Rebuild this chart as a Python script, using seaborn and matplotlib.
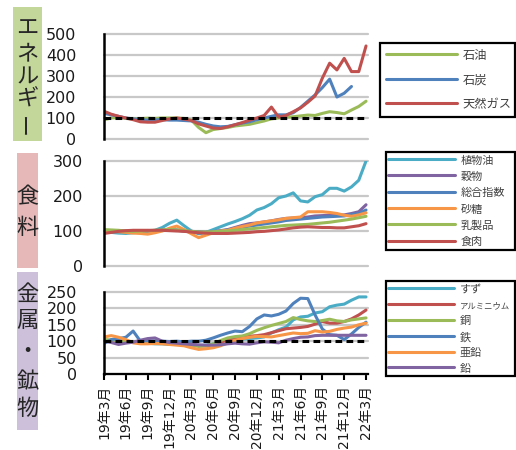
import numpy as np
import pandas as pd
import matplotlib
matplotlib.use("Agg")
import matplotlib.pyplot as plt
import seaborn as sns
from matplotlib.lines import Line2D
from matplotlib.patches import Rectangle

# ---------------- data ----------------
month_index = list(range(37))  # 2019-03 .. 2022-03, monthly
tick_positions = list(range(0, 37, 3))
tick_labels = ["19年3月", "19年6月", "19年9月", "19年12月", "20年3月", "20年6月",
               "20年9月", "20年12月", "21年3月", "21年6月", "21年9月", "21年12月", "22年3月"]

energy_names = ["石油", "石炭", "天然ガス"]
energy_colors = ["#9bbb59", "#4f81bd", "#c0504d"]
oil = [92, 100, 102, 98, 96, 97, 99, 98, 100, 100, 100, 98, 90, 55, 30, 45, 50, 55, 62,
       66, 70, 78, 86, 96, 100, 104, 106, 110, 114, 112, 122, 130, 126, 120, 138, 155, 180]
coal = [122, 115, 108, 100, 96, 92, 90, 91, 92, 90, 90, 88, 86, 80, 70, 62, 58, 60, 68,
        76, 82, 92, 100, 108, 115, 115, 125, 150, 180, 210, 245, 285, 200, 218, 250,
        np.nan, np.nan]
gas = [132, 118, 108, 100, 92, 82, 80, 80, 88, 96, 100, 95, 88, 72, 62, 52, 50, 58, 68,
       78, 90, 100, 112, 152, 104, 112, 130, 148, 175, 205, 290, 361, 329, 384, 321, 321, 443]

food_names = ["植物油", "穀物", "総合指数", "砂糖", "乳製品", "食肉"]
food_colors = ["#4bacc6", "#8064a2", "#4f81bd", "#f79646", "#9bbb59", "#c0504d"]
veg_oil = [97, 96, 94, 93, 95, 97, 100, 102, 110, 122, 131, 115, 100, 92, 96, 104, 112,
           120, 127, 135, 145, 160, 167, 178, 195, 200, 209, 186, 183, 198, 204, 222, 222,
           214, 226, 245, 300]
grains = [100, 101, 100, 99, 98, 99, 100, 101, 102, 103, 102, 100, 99, 98, 97, 98, 101,
          104, 110, 116, 121, 123, 126, 129, 133, 136, 137, 138, 140, 143, 144, 145, 145,
          146, 150, 155, 175]
food_total = [100, 100, 99, 99, 98, 99, 100, 101, 102, 104, 103, 100, 97, 95, 95, 97, 100,
              103, 107, 111, 114, 117, 120, 123, 126, 130, 132, 134, 136, 138, 140, 141,
              142, 143, 147, 150, 160]
sugar = [97, 99, 98, 96, 94, 93, 91, 95, 100, 108, 114, 104, 92, 81, 88, 95, 100, 102, 108,
         113, 117, 123, 126, 129, 132, 136, 138, 140, 155, 155, 155, 153, 150, 145, 142,
         146, 152]
dairy = [104, 103, 102, 100, 99, 100, 101, 102, 103, 104, 103, 101, 99, 97, 97, 98, 99,
         100, 102, 104, 106, 108, 110, 112, 114, 116, 117, 118, 119, 121, 123, 125, 128,
         131, 134, 138, 142]
meat = [93, 96, 99, 101, 102, 102, 102, 102, 102, 101, 100, 99, 97, 95, 94, 93, 93, 93, 94,
        95, 96, 98, 99, 101, 103, 106, 109, 111, 112, 111, 110, 110, 109, 109, 112, 115, 121]

metal_names = ["すず", "アルミニウム", "銅", "鉄", "亜鉛", "鉛"]
metal_colors = ["#4bacc6", "#c0504d", "#9bbb59", "#4f81bd", "#f79646", "#8064a2"]
tin = [100, 102, 101, 100, 98, 96, 94, 92, 92, 90, 92, 94, 92, 86, 88, 92, 96, 100, 103,
       106, 108, 110, 113, 125, 135, 143, 165, 174, 176, 186, 190, 205, 210, 213, 225, 235, 235]
aluminium = [100, 102, 100, 98, 97, 96, 95, 95, 96, 95, 95, 96, 92, 86, 86, 90, 96, 105,
             110, 113, 115, 117, 120, 126, 132, 138, 140, 142, 145, 152, 160, 155, 155, 160,
             168, 180, 195]
copper = [105, 104, 100, 98, 97, 98, 96, 95, 94, 94, 95, 93, 88, 84, 86, 92, 102, 110, 114,
          116, 123, 133, 141, 148, 154, 160, 172, 166, 162, 160, 163, 167, 162, 160, 165,
          168, 171]
iron = [93, 105, 108, 112, 131, 100, 100, 101, 100, 99, 100, 98, 100, 100, 103, 110, 118,
        125, 131, 129, 145, 168, 180, 177, 182, 192, 215, 231, 230, 180, 137, 120, 118, 105,
        122, 142, 158]
zinc = [113, 117, 112, 105, 95, 92, 92, 93, 92, 90, 88, 86, 80, 75, 77, 80, 86, 95, 103,
        108, 112, 115, 114, 113, 117, 121, 125, 123, 124, 132, 128, 130, 136, 140, 143, 150, 155]
lead = [100, 96, 90, 94, 97, 103, 108, 110, 100, 96, 94, 92, 90, 89, 88, 88, 89, 92, 94,
        92, 91, 95, 98, 97, 95, 103, 108, 112, 113, 117, 118, 118, 118, 118, 118, 118, 118]

# ---------------- style ----------------
sns.set_theme(style="white")
plt.rcParams["font.family"] = ["DejaVu Sans", "Noto Sans CJK JP"]
TXT = "#1a1a1a"
GRID = "#c8c8c8"
W, H = 516, 450

fig = plt.figure(figsize=(W / 100, H / 100), dpi=100)


def fx(px):
    return px / W


def fy(py):
    return 1 - py / H


def make_axes(top, bottom):
    return fig.add_axes([fx(104), fy(bottom), fx(368) - fx(104), (bottom - top) / H])


def long_df(names, series):
    d = {"month": month_index}
    for n, s in zip(names, series):
        d[n] = s
    return pd.DataFrame(d).melt(id_vars="month", var_name="series", value_name="value")


def draw_panel(ax, names, series, colors, ymax, yticks, ypad, dashed, bottom_axis):
    df = long_df(names, series)
    sns.lineplot(data=df, x="month", y="value", hue="series", hue_order=names,
                 palette=colors, linewidth=2.2, ax=ax, legend=False, sort=True, zorder=3)
    # horizontal gridlines
    for v in yticks:
        ax.axhline(v, color=GRID, lw=1.6, zorder=1, clip_on=False)
    if dashed:
        ax.axhline(100, color="black", lw=2.2, ls=(0, (2.2, 1.4)), zorder=5)
    ax.set_xlim(0, 36.27)
    ax.set_ylim(0, ymax)
    ax.set_yticks(yticks)
    ax.set_yticklabels([str(v) for v in yticks], fontsize=11.5, color=TXT)
    ax.tick_params(axis="y", length=0, pad=ypad)
    ax.set_xlabel("")
    ax.set_ylabel("")
    for s in ["top", "right"]:
        ax.spines[s].set_visible(False)
    ax.spines["left"].set_color("black")
    ax.spines["left"].set_linewidth(1.8)
    ax.spines["left"].set_zorder(6)
    if bottom_axis:
        ax.spines["bottom"].set_color("black")
        ax.spines["bottom"].set_linewidth(1.6)
        ax.spines["bottom"].set_zorder(6)
        ax.set_xticks(tick_positions)
        ax.set_xticklabels(tick_labels, rotation=90, fontsize=10, color=TXT)
        ax.tick_params(axis="x", length=4, width=1.5, color="black", pad=4, direction="out",
                       bottom=True)
    else:
        ax.spines["bottom"].set_visible(False)
        ax.set_xticks([])


def add_legend(ax, names, colors, x0, ytop, fs, pad, hlen, tpad, lspace):
    handles = [Line2D([], [], color=c, lw=2.2) for c in colors]
    leg = ax.legend(handles, names, loc="upper left",
                    bbox_to_anchor=(fx(x0), fy(ytop), fx(515) - fx(x0), 0),
                    bbox_transform=fig.transFigure, mode="expand", borderaxespad=0,
                    borderpad=pad, handlelength=hlen, handleheight=1.2,
                    handletextpad=tpad, labelspacing=lspace, fontsize=fs,
                    frameon=True, fancybox=False, labelcolor="#404040")
    fr = leg.get_frame()
    fr.set_edgecolor("black")
    fr.set_linewidth(1.6)
    fr.set_alpha(1)
    return leg


ax1 = make_axes(34, 139)
ax2 = make_axes(161, 266)
ax3 = make_axes(292, 374)

draw_panel(ax1, energy_names, [oil, coal, gas], energy_colors, 500,
           [0, 100, 200, 300, 400, 500], 20, True, False)
draw_panel(ax2, food_names, [veg_oil, grains, food_total, sugar, dairy, meat], food_colors,
           300, [0, 100, 200, 300], 15, False, False)
draw_panel(ax3, metal_names, [tin, aluminium, copper, iron, zinc, lead], metal_colors,
           250, [0, 50, 100, 150, 200, 250], 19.5, True, True)

add_legend(ax1, energy_names, energy_colors, 380, 43, 8.8, 0.5, 5.8, 0.45, 0.9)
add_legend(ax2, food_names, food_colors, 386, 152, 8, 0.2, 6.0, 0.55, 0.44)
leg3 = add_legend(ax3, metal_names, metal_colors, 386, 281, 8, 0.2, 5.9, 0.55, 0.40)
leg3.get_texts()[1].set_fontsize(6)

# ---------------- side category labels ----------------
side = [
    ((13, 7, 42, 141), "#c4d79b", [("エ", 28), ("ネ", 54), ("ル", 77), ("ギ", 99), ("ー", 123)], 27.5),
    ((17, 153, 38, 268), "#e6b9b8", [("食", 197), ("料", 227)], 27.5),
    ((17, 272, 38, 430), "#ccc0da", [("金", 294), ("属", 320), ("・", 352), ("鉱", 382), ("物", 408)], 27.5),
]
for (x0, y0, x1, y1), col, chars, cx in side:
    fig.add_artist(Rectangle((fx(x0), fy(y1)), fx(x1) - fx(x0), (y1 - y0) / H,
                             transform=fig.transFigure, facecolor=col, edgecolor="none",
                             zorder=0))
    for ch, cy in chars:
        fig.text(fx(cx), fy(cy), ch, ha="center", va="center", fontsize=16,
                 color="#262626", family="Noto Sans CJK JP",
                 rotation=90 if ch == "ー" else 0)

fig.savefig("out.png", dpi=100)
